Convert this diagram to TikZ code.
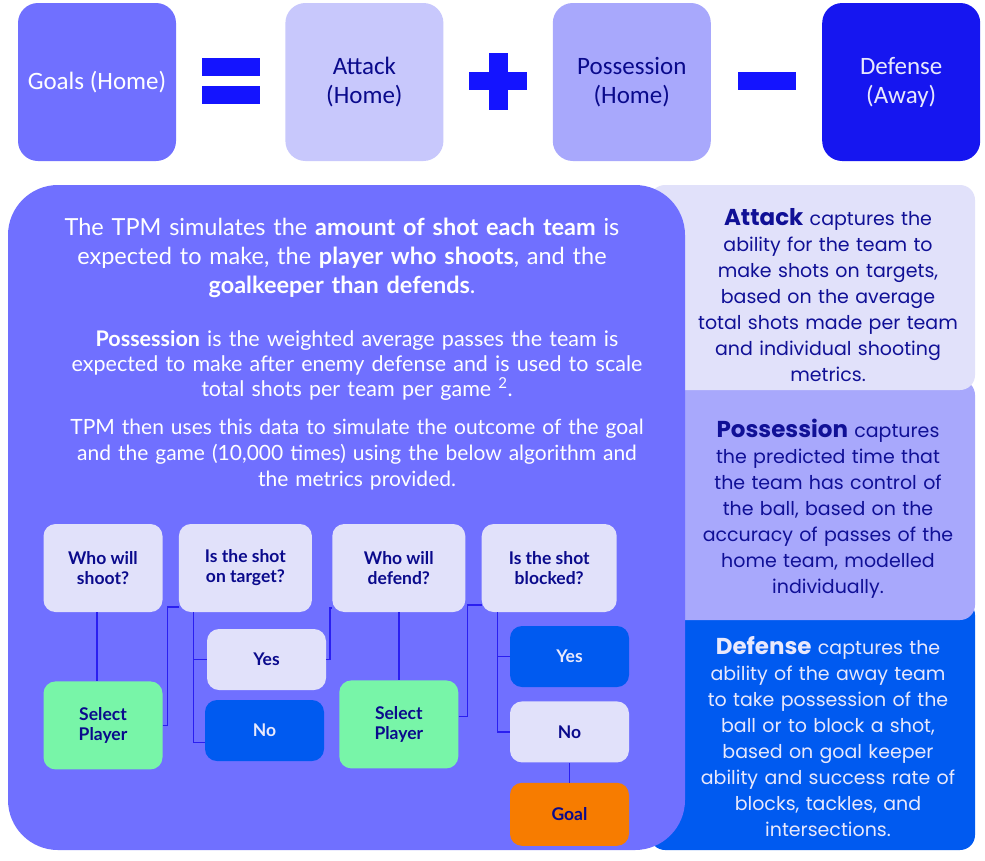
\documentclass[tikz,border=0pt]{standalone}
\usepackage{fontspec}
\setmainfont{Lato}
\newfontfamily\capfont{Poppins}
\newfontfamily\boxfont{Carlito}
\usetikzlibrary{positioning,calc}
\definecolor{tpmPurple}{RGB}{112,112,255}
\definecolor{tpmPale}{RGB}{225,225,250}
\definecolor{tpmLilac}{RGB}{200,200,252}
\definecolor{tpmLav}{RGB}{168,168,252}
\definecolor{tpmDeep}{RGB}{22,22,240}
\definecolor{tpmOp}{RGB}{20,20,255}
\definecolor{tpmBlue}{RGB}{0,90,240}
\definecolor{tpmGreen}{RGB}{120,245,168}
\definecolor{tpmOrange}{RGB}{247,124,0}
\definecolor{tpmNavy}{RGB}{16,16,150}
\definecolor{tpmInk}{RGB}{10,10,140}
\definecolor{tpmLine}{RGB}{42,31,240}
\definecolor{tpmLight}{RGB}{232,232,252}

\begin{document}
\begin{tikzpicture}[
    x=1pt, y=-1pt,
    node distance=109pt,
    term/.style={rectangle, rounded corners=20pt, minimum width=158pt, minimum height=158pt, align=center, font=\boxfont\fontsize{25}{29}\selectfont},
    opbar/.style={rectangle, fill=tpmOp, inner sep=0pt},
    note/.style={align=center, text width=300pt, inner sep=0pt, font=\capfont\fontsize{19}{26}\selectfont},
    para/.style={align=center, text width=640pt, inner sep=0pt, text=white},
    qbox/.style={rectangle, rounded corners=12pt, fill=tpmPale, text=tpmInk, minimum width=119pt, minimum height=88pt, align=center, inner sep=2pt, font=\bfseries\fontsize{17.5}{20}\selectfont},
    abox/.style={qbox, minimum height=61pt},
    link/.style={draw=tpmLine, line width=1.5pt}
]
    \useasboundingbox (0,0) rectangle (985,860);
    \fill[white] (0,0) rectangle (985,860);

    % Equation row
    \node[term, fill=tpmPurple, text=white] (goals) at (97,82) {Goals (Home)};
    \node[term, fill=tpmLilac, text=tpmInk, right=of goals] (attack) {Attack\\(Home)};
    \node[term, fill=tpmLav, text=tpmInk, right=of attack] (poss) {Possession\\(Home)};
    \node[term, fill=tpmDeep, text=tpmLight, right=111pt of poss] (def) {Defense\\(Away)};
    \path (goals.east) -- (attack.west) coordinate[midway] (eq);
    \path (attack.east) -- (poss.west) coordinate[midway] (plus);
    \path (poss.east) -- (def.west) coordinate[midway] (minus);
    \node[opbar, minimum width=58pt, minimum height=18pt] (eqtop) at ([yshift=15pt]eq) {};
    \node[opbar, minimum width=58pt, minimum height=18pt] (eqbot) at ([yshift=-13pt]eq) {};
    \node[opbar, minimum width=58pt, minimum height=18pt] (plush) at ([yshift=1pt]plus) {};
    \node[opbar, minimum width=19pt, minimum height=57pt] (plusv) at ([yshift=1pt]plus) {};
    \node[opbar, minimum width=58pt, minimum height=18pt] (minusbar) at ([yshift=1pt]minus) {};

    % Side panels
    \fill[tpmBlue, rounded corners=15pt] (650,600) rectangle (975,850);
    \fill[tpmLav, rounded corners=15pt] (650,380) rectangle (975,620);
    \fill[tpmPale, rounded corners=15pt] (650,185) rectangle (975,390);
    \node[note, text=tpmNavy] (attnote) at (828,295) {{\fontsize{23}{26}\selectfont\bfseries Attack} captures the\\ability for the team to\\make shots on targets,\\based on the average\\total shots made per team\\and individual shooting\\metrics.};
    \node[note, text=tpmNavy] (possnote) at (828,509) {{\fontsize{23}{26}\selectfont\bfseries Possession} captures\\the predicted time that\\the team has control of\\the ball, based on the\\accuracy of passes of the\\home team, modelled\\individually.};
    \node[note, text=tpmLight] (defnote) at (828,737) {{\fontsize{23}{26}\selectfont\bfseries Defense} captures the\\ability of the away team\\to take possession of the\\ball or to block a shot,\\based on goal keeper\\ability and success rate of\\blocks, tackles, and\\intersections.};

    % Main panel
    \fill[tpmPurple, rounded corners=50pt] (8,185) rectangle (685,850);
    \node[para, font=\fontsize{23.5}{29}\selectfont] (intro) at (342,258) {The TPM simulates the \textbf{amount of shot each team} is\\expected to make, the \textbf{player who shoots}, and the\\\textbf{goalkeeper than defends}.};
    \node[para, font=\fontsize{21.5}{25}\selectfont] (possdef) at (357,365) {\textbf{Possession} is the weighted average passes the team is\\expected to make after enemy defense and is used to scale\\total shots per team per game~\textsuperscript{2}.};
    \node[para, font=\fontsize{21}{26}\selectfont] (simul) at (357,455) {TPM then uses this data to simulate the outcome of the goal\\and the game (10,000 times) using the below algorithm and\\the metrics provided.};

    % Algorithm
    \node[qbox] (shoot) at (103,568) {Who will\\shoot?};
    \node[qbox, minimum width=133pt, right=16pt of shoot] (target) {Is the shot\\on target?};
    \node[qbox, minimum width=133pt, right=20pt of target] (defend) {Who will\\defend?};
    \node[qbox, minimum width=135pt, right=16pt of defend] (blocked) {Is the shot\\blocked?};
    \node[qbox, fill=tpmGreen, below=69pt of shoot] (pick1) {Select\\Player};
    \node[qbox, fill=tpmGreen, below=68pt of defend] (pick2) {Select\\Player};
    \node[abox] (yes1) at (266.5,659.5) {Yes};
    \node[abox, fill=tpmBlue, text=tpmLight] (no1) at (264.5,730.5) {No};
    \node[abox, fill=tpmBlue, text=tpmLight] (yes2) at (569.5,656.5) {Yes};
    \node[abox, below=14pt of yes2] (no2) {No};
    \node[abox, fill=tpmOrange, minimum height=63pt, below=20pt of no2] (goal) {Goal};

    \draw[link] ([xshift=-6pt]shoot.south) -- ([xshift=-6pt]shoot.south |- pick1.north);
    \draw[link] (pick1.east) -- ++(5,0) |- ([yshift=5pt]target.south west);
    \draw[link] ([xshift=15pt]target.south west) |- (yes1.west);
    \draw[link] ([xshift=15pt]target.south west) |- ([yshift=-12pt]no1.west);
    \draw[link] (yes1.east) -- ++(4,0) |- ([yshift=4pt]defend.south west);
    \draw[link] (defend.south) -- (defend.south |- pick2.north);
    \draw[link] ([yshift=8pt]pick2.east) -- ++(9,0) |- ([yshift=7pt]blocked.south west);
    \draw[link] ([xshift=16pt]blocked.south west) |- (yes2.west);
    \draw[link] ([xshift=16pt]blocked.south west) |- (no2.west);
    \draw[link] (no2) -- (goal);
\end{tikzpicture}
\end{document}
